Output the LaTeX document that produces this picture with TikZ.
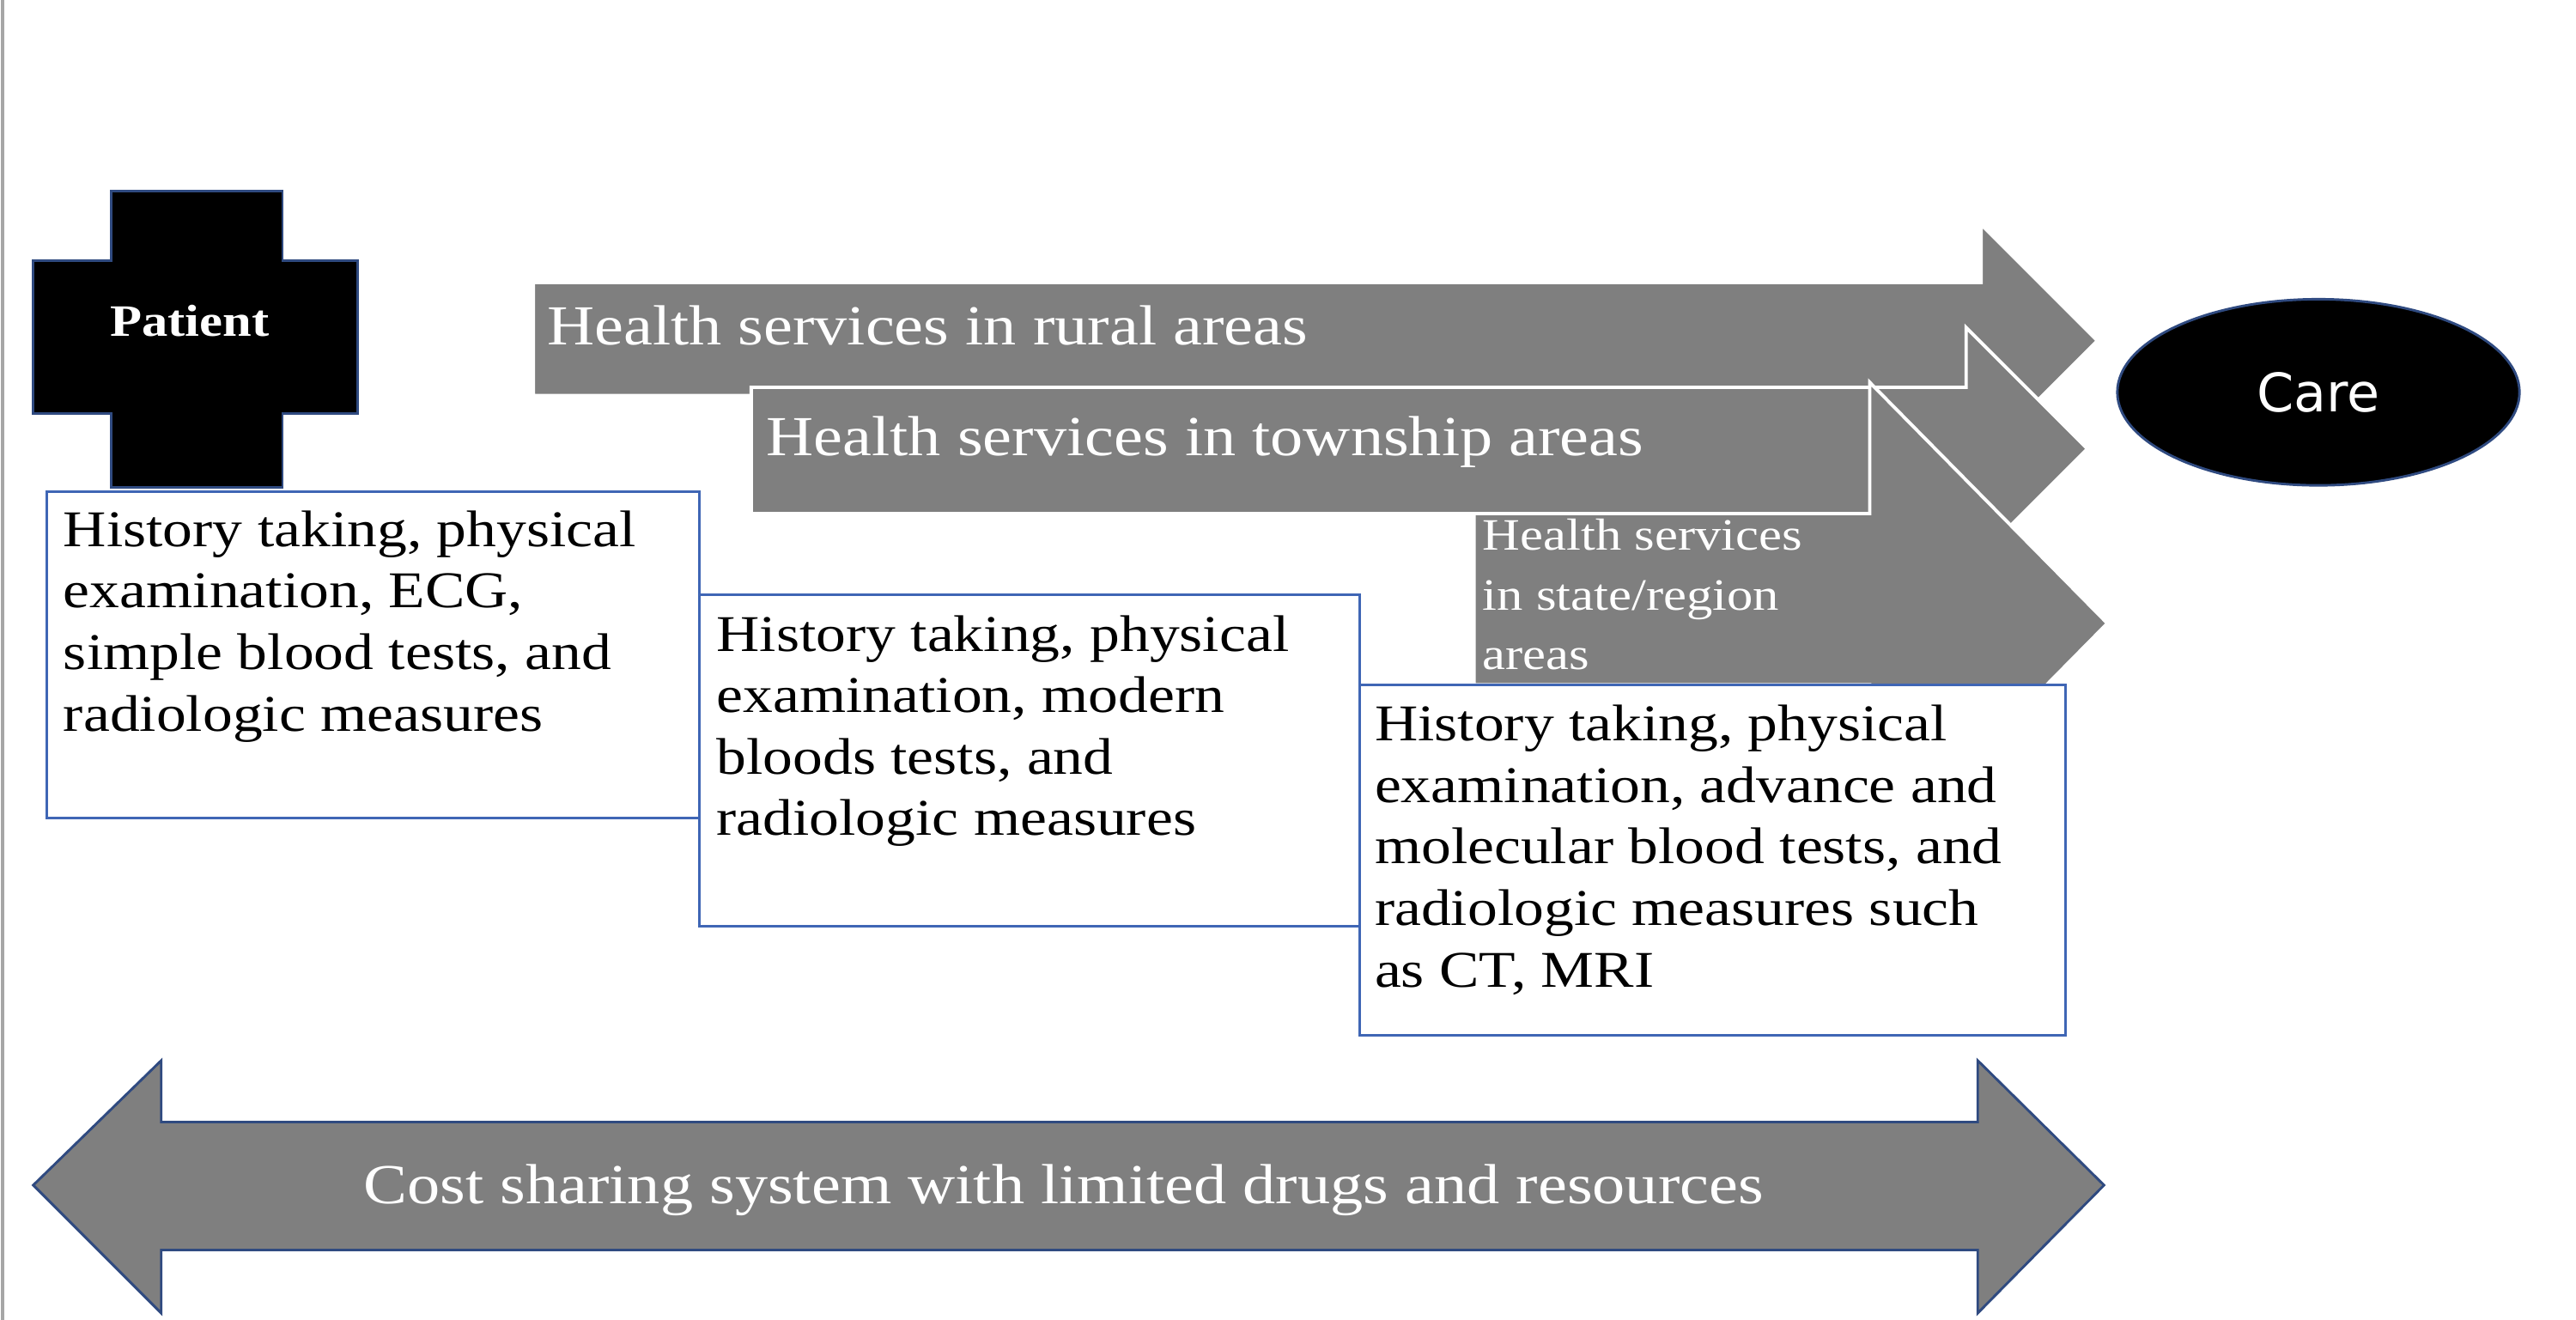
\documentclass[tikz,border=0pt]{standalone}
\usepackage{fontspec}
\setmainfont[FakeStretch=1.16]{Liberation Serif}
\newfontfamily\carefont{DejaVu Sans}
\usetikzlibrary{shapes.geometric}
\definecolor{arrgray}{HTML}{7F7F7F}
\definecolor{bblue}{HTML}{3F66B5}
\definecolor{dblue}{HTML}{2F4A80}
\tikzset{
  garrow/.style={fill=arrgray,draw=white,line width=2pt},
  infobox/.style={draw=bblue,line width=1.5pt,fill=white},
  boxtext/.style={anchor=north west,align=left,inner sep=0pt,font=\fontsize{31}{37}\selectfont},
  arrtext/.style={anchor=west,text=white,inner sep=0pt},
}
\begin{document}
\begin{tikzpicture}[x=1pt,y=-1pt]
\useasboundingbox (0,0) rectangle (1550,794);
\draw[gray!70,line width=2pt] (1.5,0) -- (1.5,794);
% cross
\draw[fill=black,draw=dblue,line width=1.5pt] (67,115) -- (170,115) -- (170,157) -- (215,157) -- (215,249) -- (170,249) -- (170,293) -- (67,293) -- (67,249) -- (20,249) -- (20,157) -- (67,157) -- cycle;
\node[text=white,font=\fontsize{27}{30}\selectfont\bfseries] (patient) at (114,193) {Patient};
% arrows
\draw[garrow] (321,170) -- (1192,170) -- (1192,135) -- (1262,205) -- (1192,275) -- (1192,238) -- (321,238) -- cycle;
\node[arrtext,font=\fontsize{34}{38}\selectfont] (rural) at (329,196) {Health services in rural areas};
\draw[garrow] (452,233) -- (1183,233) -- (1183,197) -- (1256,270) -- (1183,343) -- (1183,309) -- (452,309) -- cycle;
\node[arrtext,font=\fontsize{34}{38}\selectfont] (township) at (461,266) {Health services in township areas};
\draw[garrow] (887,309) -- (1125,309) -- (1125,230) -- (1268,375) -- (1125,520) -- (1125,412) -- (887,412) -- cycle;
\node[anchor=north west,align=left,text=white,inner sep=0pt,font=\fontsize{27}{36}\selectfont] (state) at (892,312) {Health services\\in state/region\\areas};
% care
\node[ellipse,fill=black,draw=dblue,line width=1.5pt,minimum width=242pt,minimum height=112pt,text=white,font=\carefont\fontsize{32}{36}\selectfont] (care) at (1395,236) {Care};
% boxes
\draw[infobox] (28,296) rectangle (421,492);
\node[boxtext] (b1) at (38,307) {History taking, physical\\examination, ECG,\\simple blood tests, and\\radiologic measures};
\draw[infobox] (421,358) rectangle (818,557);
\node[boxtext] (b2) at (431,370) {History taking, physical\\examination, modern\\bloods tests, and\\radiologic measures};
\draw[infobox] (818,412) rectangle (1243,623);
\node[boxtext] (b3) at (827,424) {History taking, physical\\examination, advance and\\molecular blood tests, and\\radiologic measures such\\as CT, MRI};
% bottom double arrow
\draw[fill=arrgray,draw=dblue,line width=1.5pt] (20,713) -- (97,638) -- (97,675) -- (1190,675) -- (1190,638) -- (1266,713) -- (1190,790) -- (1190,752) -- (97,752) -- (97,790) -- cycle;
\node[text=white,font=\fontsize{34}{38}\selectfont] (cost) at (640,716) {Cost sharing system with limited drugs and resources};
\end{tikzpicture}
\end{document}
